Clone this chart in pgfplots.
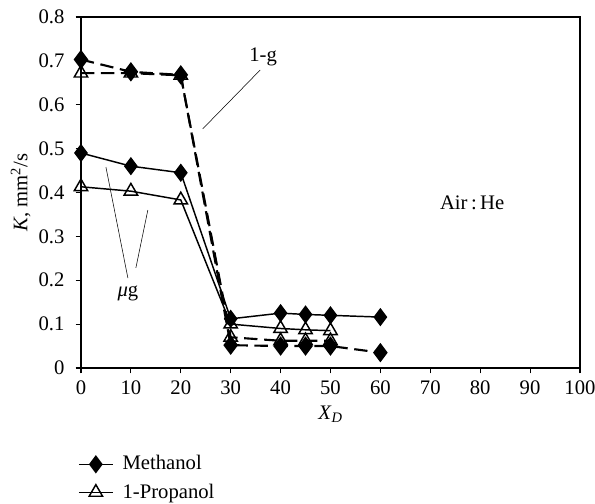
\documentclass[border=0pt]{standalone}
\usepackage{pgfplots}
\pgfplotsset{compat=1.18}
\usepackage{fontspec}
\setmainfont{Liberation Serif}
\begin{document}
\fontsize{15.5}{18}\selectfont
\begin{tikzpicture}
\begin{axis}[
  scale only axis,
  width=374.25pt, height=263.25pt,
  xmin=0, xmax=100, ymin=0, ymax=0.8,
  xtick={0,10,...,100}, ytick={0,0.1,...,0.8},
  yticklabels={0,0.1,0.2,0.3,0.4,0.5,0.6,0.7,0.8},
  axis x line*=bottom, axis y line*=left,
  tick align=outside,
  major tick length=4pt,
  tick style={black, line width=0.8pt},
  axis line style={line width=0.8pt},
  /pgf/number format/assume math mode=true,
  ticklabel style={font=\fontsize{15.5}{18}\selectfont},
  yticklabel style={xshift=-3pt},
  xlabel={\textit{X}\textsubscript{\textit{D}}},
  ylabel={\textit{K}, mm\textsuperscript{2}/s},
  label style={font=\fontsize{15.5}{18}\selectfont},
  xlabel style={yshift=2pt},
  ylabel style={yshift=-4.5pt},
  clip=false,
  legend style={draw=none, fill=none, at={(rel axis cs:-0.006,-0.245)}, anchor=north west,
    font=\fontsize{15.5}{18}\selectfont, row sep=6pt, inner sep=0pt,
    nodes={inner sep=1pt}},
  legend cell align=left,
  legend image code/.code={\draw[#1, solid, line width=0.8pt] (0cm,0cm) -- (0.9cm,0cm); \draw[#1, solid] plot coordinates {(0.45cm,0cm)}; \path (1.1cm,0cm);},
]
% frame top/right
\draw[line width=0.8pt] (rel axis cs:0,1) -- (rel axis cs:1,1) -- (rel axis cs:1,0);
% Methanol micro-g
\addplot[black, line width=1.1pt, mark=diamond*, mark size=6pt, mark options={solid, fill=black}]
  coordinates {(0,0.49) (10,0.46) (20,0.445) (30,0.112) (40,0.125) (45,0.122) (50,0.12) (60,0.116)};
\addlegendentry{Methanol}
% Propanol micro-g
\addplot[black, line width=1.1pt, mark=triangle, mark size=5.8pt, mark options={solid, fill=white}]
  coordinates {(0,0.413) (10,0.403) (20,0.383) (30,0.1) (40,0.09) (45,0.087) (50,0.085)};
\addlegendentry{1-Propanol}
% Propanol 1-g
\addplot[black, line width=1.6pt, dash pattern=on 10pt off 5pt, mark=triangle, mark size=5.8pt, mark options={solid, line width=1.1pt, fill=white}, forget plot]
  coordinates {(0,0.672) (10,0.672) (20,0.667) (30,0.07) (40,0.062) (45,0.062) (50,0.062)};
% Methanol 1-g
\addplot[black, line width=1.6pt, dash pattern=on 10pt off 5pt, mark=diamond*, mark size=6pt, mark options={solid, fill=black}, forget plot]
  coordinates {(0,0.703) (10,0.675) (20,0.668) (30,0.052) (40,0.05) (45,0.05) (50,0.05) (60,0.035)};
% annotations
\node at (axis cs:36.5,0.709) {1-g};
\draw[line width=0.4pt] (axis cs:35.9,0.679) -- (axis cs:24.4,0.545);
\node at (axis cs:9.4,0.171) {\textit{μ}g};
\draw[line width=0.4pt] (axis cs:5,0.458) -- (axis cs:9.4,0.205);
\draw[line width=0.4pt] (axis cs:13.4,0.36) -- (axis cs:11.0,0.228);
\node at (axis cs:78.4,0.376) {Air\,:\,He};
\coordinate (bl) at (rel axis cs:-0.1623,-0.3875);
\coordinate (tr) at (rel axis cs:1.0301,1.0484);
\end{axis}
\pgfresetboundingbox
\path[use as bounding box] (bl) rectangle (tr);
\end{tikzpicture}
\end{document}
